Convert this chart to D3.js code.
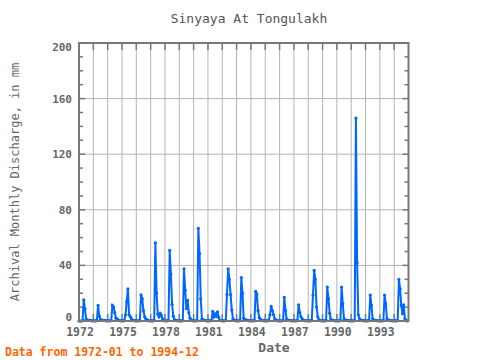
<!DOCTYPE html>
<html>
<head>
<meta charset="utf-8">
<script src="https://cdn.jsdelivr.net/npm/d3@7"></script>
<style>
  body { margin: 0; background: #fff; }
  svg text { font-family: "DejaVu Sans Mono", monospace; }
</style>
</head>
<body>
<div id="chart"></div>
<script>
// monthly discharge, mm, one row per year Jan..Dec, from 1972-01
const startYear = 1972;
const discharge = [
  [0, 0, 0, 0.2, 15.3, 8.8, 1.3, 0.6, 0.5, 0.4, 0.3, 0.1],      // 1972
  [0.1, 0.1, 0.1, 0.2, 11.2, 3.5, 1.2, 0.7, 0.5, 0.4, 0.3, 0.1], // 1973
  [0.1, 0.1, 0.1, 0.3, 11.2, 10, 6, 2, 1.3, 0.6, 0.3, 0.1],      // 1974
  [0.1, 0.1, 0.2, 4.5, 14, 23.2, 4.5, 3, 1.5, 0.6, 0.3, 0.1],    // 1975
  [0.1, 0.1, 0.1, 0.3, 18.9, 16, 7.5, 3, 1.5, 0.8, 0.3, 0.1],    // 1976
  [0.1, 0.1, 0.1, 0.3, 56.3, 20, 5, 3, 5.5, 4, 1.5, 0.3],        // 1977
  [0.1, 0.1, 0.1, 0.3, 50.8, 34, 12, 3.5, 1, 0.5, 0.3, 0.1],     // 1978
  [0.1, 0.1, 0.1, 0.3, 37.6, 22, 8.8, 14.8, 6, 2, 0.8, 0.2],     // 1979
  [0.1, 0.1, 0.1, 0.3, 66.7, 48.4, 16, 1.3, 0.8, 0.5, 0.3, 0.1], // 1980
  [0.1, 0.1, 0.1, 0.3, 7, 3, 5.1, 3.5, 6.6, 2.6, 0.4, 0.2],      // 1981
  [0.1, 0.1, 0.1, 0.5, 19, 37.6, 30, 19, 8, 1.5, 0.5, 0.2],      // 1982
  [0.1, 0.1, 0.1, 0.3, 31.3, 20, 2, 1, 0.6, 0.4, 0.3, 0.1],      // 1983
  [0.1, 0.1, 0.1, 0.3, 21.3, 19.5, 7.5, 2.5, 1.3, 0.5, 0.3, 0.1],// 1984
  [0.1, 0.1, 0.1, 0.5, 4.5, 10.5, 7.5, 4.5, 1.6, 0.6, 0.3, 0.1], // 1985
  [0.1, 0.1, 0.1, 0.3, 17.1, 7.5, 1.3, 0.6, 0.4, 0.3, 0.2, 0.1], // 1986
  [0.1, 0.1, 0.1, 0.3, 11.7, 6, 3, 1.5, 0.4, 0.3, 0.2, 0.1],     // 1987
  [0.1, 0.1, 0.1, 0.4, 18.7, 36.4, 30, 10, 3, 1, 0.4, 0.1],      // 1988
  [0.1, 0.1, 0.1, 0.3, 24.4, 16, 5.5, 1.3, 0.5, 0.4, 0.2, 0.1],  // 1989
  [0.1, 0.1, 0.1, 0.3, 24.4, 12.4, 1.6, 0.6, 0.4, 0.3, 0.2, 0.1],// 1990
  [0.1, 0.1, 0.1, 0.3, 146, 42, 4.5, 1.6, 0.6, 0.4, 0.2, 0.1],   // 1991
  [0.1, 0.1, 0.1, 0.3, 18.7, 11.2, 1.6, 0.6, 0.4, 0.3, 0.2, 0.1],// 1992
  [0.1, 0.1, 0.1, 0.3, 18.7, 12.4, 1.6, 0.6, 0.4, 0.3, 0.2, 0.1],// 1993
  [0.1, 0.1, 0.1, 0.3, 29.9, 23.2, 11, 5.3, 11.7, 1.6, 0.4, 0]   // 1994
];
const yTicks = [0, 40, 80, 120, 160, 200];
const xTickYears = [1972, 1975, 1978, 1981, 1984, 1987, 1990, 1993];

const points = [];
discharge.forEach((row, yi) => {
  row.forEach((v, m) => points.push({date: new Date(startYear + yi, m, 1), value: v}));
});

const width = 480, height = 360;
const svg = d3.select("#chart").append("svg")
  .attr("width", width)
  .attr("height", height);

const x = d3.scaleTime()
  .domain([new Date(1972, 0, 1), new Date(1995, 0, 1)])
  .range([79, 408.5]);
const y = d3.scaleLinear()
  .domain([0, 200])
  .range([321, 43]);

const gridColor = "#b4b4b4";
const axisColor = "#777";
const textColor = "#666";

// grid
const allYears = d3.range(1972, 1995);
svg.append("g").selectAll("line")
  .data(allYears.slice(1))
  .enter().append("line")
  .attr("x1", d => x(new Date(d, 0, 1))).attr("x2", d => x(new Date(d, 0, 1)))
  .attr("y1", y(200)).attr("y2", y(0))
  .attr("stroke", gridColor).attr("stroke-width", 1);
svg.append("g").selectAll("line")
  .data(yTicks.slice(1, -1))
  .enter().append("line")
  .attr("x1", x.range()[0]).attr("x2", x.range()[1])
  .attr("y1", d => y(d)).attr("y2", d => y(d))
  .attr("stroke", gridColor).attr("stroke-width", 1);

// ticks on the frame
const minor = d3.range(0, 201, 10);
const tickG = svg.append("g").attr("stroke", axisColor).attr("stroke-width", 1.5);
tickG.selectAll(".yl").data(minor).enter().append("line")
  .attr("x1", x.range()[0]).attr("x2", d => x.range()[0] + (d % 40 === 0 ? 6 : 4))
  .attr("y1", d => y(d)).attr("y2", d => y(d));
tickG.selectAll(".yr").data(minor).enter().append("line")
  .attr("x1", x.range()[1]).attr("x2", d => x.range()[1] - (d % 40 === 0 ? 6 : 4))
  .attr("y1", d => y(d)).attr("y2", d => y(d));
tickG.selectAll(".xb").data(allYears).enter().append("line")
  .attr("x1", d => x(new Date(d, 0, 1))).attr("x2", d => x(new Date(d, 0, 1)))
  .attr("y1", y(0)).attr("y2", y(0) - 7);
tickG.selectAll(".xt").data(allYears).enter().append("line")
  .attr("x1", d => x(new Date(d, 0, 1))).attr("x2", d => x(new Date(d, 0, 1)))
  .attr("y1", y(200)).attr("y2", y(200) + 7);

// data line
const line = d3.line()
  .x(d => x(d.date))
  .y(d => y(d.value));
svg.append("path")
  .datum(points)
  .attr("fill", "none")
  .attr("stroke", "#0066ff")
  .attr("stroke-width", 2)
  .attr("d", line);
svg.append("g").selectAll("circle")
  .data(points)
  .enter().append("circle")
  .attr("cx", d => x(d.date))
  .attr("cy", d => y(d.value))
  .attr("r", 1.6)
  .attr("fill", "#0066ff");

// frame
svg.append("rect")
  .attr("x", x.range()[0]).attr("y", y(200))
  .attr("width", x.range()[1] - x.range()[0])
  .attr("height", y(0) - y(200))
  .attr("fill", "none")
  .attr("stroke", axisColor)
  .attr("stroke-width", 2);

// tick labels
svg.append("g").selectAll("text")
  .data(yTicks)
  .enter().append("text")
  .attr("x", 72)
  .attr("y", d => d === 0 ? y(d) : d === 200 ? y(d) + 8 : y(d) + 4)
  .attr("text-anchor", "end")
  .attr("fill", textColor)
  .style("font-size", "11px")
  .style("font-weight", "bold")
  .text(d => d);
svg.append("g").selectAll("text")
  .data(xTickYears)
  .enter().append("text")
  .attr("x", d => x(new Date(d, 0, 1)) + 1)
  .attr("y", 336)
  .attr("text-anchor", "middle")
  .attr("fill", textColor)
  .style("font-size", "11.5px")
  .style("font-weight", "bold")
  .text(d => d);

// titles
svg.append("text")
  .attr("x", 249).attr("y", 23)
  .attr("text-anchor", "middle")
  .attr("fill", "#555")
  .style("font-size", "13px")
  .text("Sinyaya At Tongulakh");
svg.append("text")
  .attr("x", 274).attr("y", 352)
  .attr("text-anchor", "middle")
  .attr("fill", textColor)
  .style("font-size", "13px")
  .style("font-weight", "bold")
  .text("Date");
svg.append("text")
  .attr("transform", "translate(19,182) rotate(-90)")
  .attr("text-anchor", "middle")
  .attr("fill", textColor)
  .style("font-size", "12px")
  .text("Archival Monthly Discharge, in mm");
svg.append("text")
  .attr("x", 5).attr("y", 356)
  .attr("fill", "#ff6600")
  .style("font-size", "11.5px")
  .style("font-weight", "bold")
  .text("Data from 1972-01 to 1994-12");
</script>
</body>
</html>
